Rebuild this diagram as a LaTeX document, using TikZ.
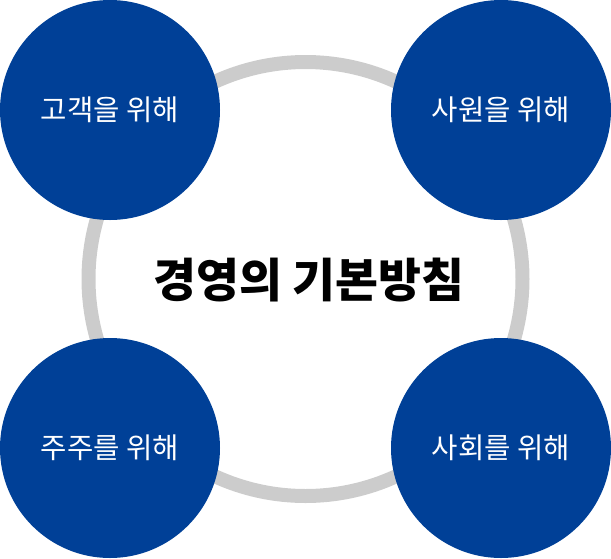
\documentclass[tikz,border=0pt]{standalone}
\usepackage{fontspec}
\setmainfont{Noto Sans CJK KR}

\definecolor{policyblue}{RGB}{0,64,151}
\definecolor{ringgray}{RGB}{204,204,204}

\tikzset{every picture/.style={line width=0.75pt}}
\tikzset{
  bluedot/.style={circle, fill=policyblue, draw=none, minimum size=165pt, inner sep=0pt, text=white, font=\fontsize{21.5}{26}\selectfont},
}

\begin{document}
\begin{tikzpicture}[x=0.75pt,y=0.75pt,yscale=-1,xscale=1]
	\useasboundingbox (0,0) rectangle (611,558); %set diagram to the reference size

	%Shape: Circle [id:ring]
	\draw [color=ringgray, line width=10.5pt] (305.5,279) circle [radius=217] ;

	%Shape: Circle [id:customer]
	\node [bluedot] (customer) at (110,110) {고객을 위해};
	%Shape: Circle [id:staff]
	\node [bluedot] (staff) at (501,110) {사원을 위해};
	%Shape: Circle [id:holder]
	\node [bluedot] (holder) at (110,448) {주주를 위해};
	%Shape: Circle [id:society]
	\node [bluedot] (society) at (501,448) {사회를 위해};

	% Text Node
	\node [font=\fontsize{35}{42}\selectfont\bfseries] (policy) at (309,280) {경영의 기본방침};

\end{tikzpicture}
\end{document}
